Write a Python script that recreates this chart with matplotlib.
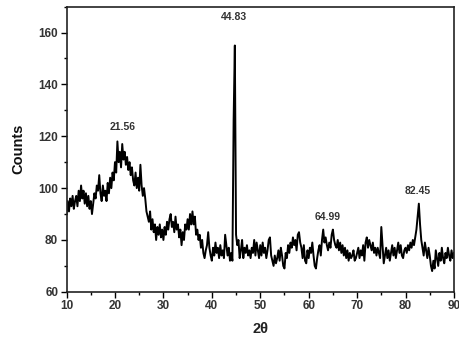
import numpy as np
import matplotlib
matplotlib.use("Agg")
import matplotlib.pyplot as plt
from matplotlib.ticker import MultipleLocator

plt.rcParams['font.family'] = ['Liberation Sans', 'DejaVu Sans']

two_theta_start = 10.0
two_theta_step = 0.25
counts = [
    90, 95, 91, 96,
    93, 97, 92, 95,
    97, 93, 99, 95,
    101, 96, 99, 94,
    98, 93, 97, 92,
    95, 90, 94, 98,
    96, 101, 99, 105,
    98, 95, 101, 97,
    99, 95, 102, 98,
    104, 100, 106, 103,
    110, 106, 118, 110,
    114, 108, 117, 111,
    114, 109, 112, 107,
    110, 105, 108, 103,
    101, 106, 100, 104,
    99, 109, 101, 97,
    100, 96, 91, 89,
    87, 91, 84, 88,
    83, 86, 80, 85,
    82, 86, 81, 84,
    80, 85, 82, 87,
    84, 88, 90, 85,
    87, 83, 89, 84,
    86, 81, 84, 78,
    83, 80, 86, 84,
    88, 84, 90, 86,
    91, 86, 89, 82,
    84, 80, 82, 77,
    80, 75, 73, 76,
    78, 83, 77, 74,
    72, 77, 74, 79,
    75, 77, 73, 78,
    74, 76, 73, 82,
    78, 74, 77, 72,
    75, 72, 126, 155,
    82, 78, 80, 73,
    76, 80, 73, 77,
    75, 78, 74, 76,
    73, 77, 75, 80,
    74, 79, 76, 73,
    78, 74, 79, 75,
    77, 73, 76, 80,
    81, 74, 72, 70,
    74, 71, 73, 76,
    72, 77, 74, 70,
    69, 75, 73, 78,
    75, 79, 77, 81,
    78, 80, 76, 82,
    83, 79, 77, 73,
    78, 72, 71, 76,
    73, 77, 75, 79,
    74, 70, 69, 73,
    76, 78, 74, 80,
    84, 79, 81, 78,
    76, 79, 77, 82,
    84, 80, 78, 77,
    80, 76, 79, 75,
    78, 74, 77, 73,
    76, 72, 75, 73,
    74, 76, 72, 73,
    75, 77, 73, 76,
    74, 78, 72, 79,
    81, 77, 80, 78,
    76, 79, 75, 77,
    74, 77, 75, 73,
    85, 78, 71, 74,
    77, 73, 76, 72,
    75, 78, 74, 77,
    73, 76, 79, 75,
    78, 74, 73, 76,
    77, 75, 78, 76,
    79, 77, 80, 78,
    81, 84, 89, 94,
    86, 80, 77, 74,
    79, 76, 73, 77,
    74, 70, 68, 72,
    69, 76, 73, 70,
    75, 72, 77, 73,
    71, 75, 73, 77,
    74, 72, 76, 73,
    75,
]
two_theta = two_theta_start + two_theta_step * np.arange(len(counts))

peak_labels = ["21.56", "44.83", "64.99", "82.45"]
peak_label_x = [21.5, 44.6, 63.9, 82.5]
peak_label_y = [123.5, 166.0, 89.0, 99.0]

fig = plt.figure(figsize=(4.59, 3.47), dpi=100)
ax = fig.add_axes([0.145, 0.159, 0.844, 0.822])
ax.plot(two_theta, counts, color='black', linewidth=1.4)

ax.set_xlim(10, 90)
ax.set_ylim(60, 170)
ax.xaxis.set_major_locator(MultipleLocator(10))
ax.xaxis.set_minor_locator(MultipleLocator(5))
ax.yaxis.set_major_locator(MultipleLocator(20))
ax.yaxis.set_minor_locator(MultipleLocator(10))
ax.tick_params(which='major', direction='out', length=4, width=1.0,
               labelsize=8.5, top=False, right=False, pad=2)
ax.tick_params(which='minor', direction='out', length=2.5, width=1.0,
               top=False, right=False)
for lbl in ax.get_xticklabels() + ax.get_yticklabels():
    lbl.set_fontweight('bold')
    lbl.set_color('#333333')
for sp in ax.spines.values():
    sp.set_linewidth(1.2)
    sp.set_color('#222222')

ax.set_xlabel('2θ', fontsize=10.5, fontweight='bold', labelpad=7, color='#222222')
ax.set_ylabel('Counts', fontsize=10.5, fontweight='bold', labelpad=9, color='#111111')

for t, x, y in zip(peak_labels, peak_label_x, peak_label_y):
    ax.text(x, y, t, fontsize=7.5, fontweight='bold', ha='center', va='center',
            color='#333333')

fig.savefig('out.png', dpi=100)
